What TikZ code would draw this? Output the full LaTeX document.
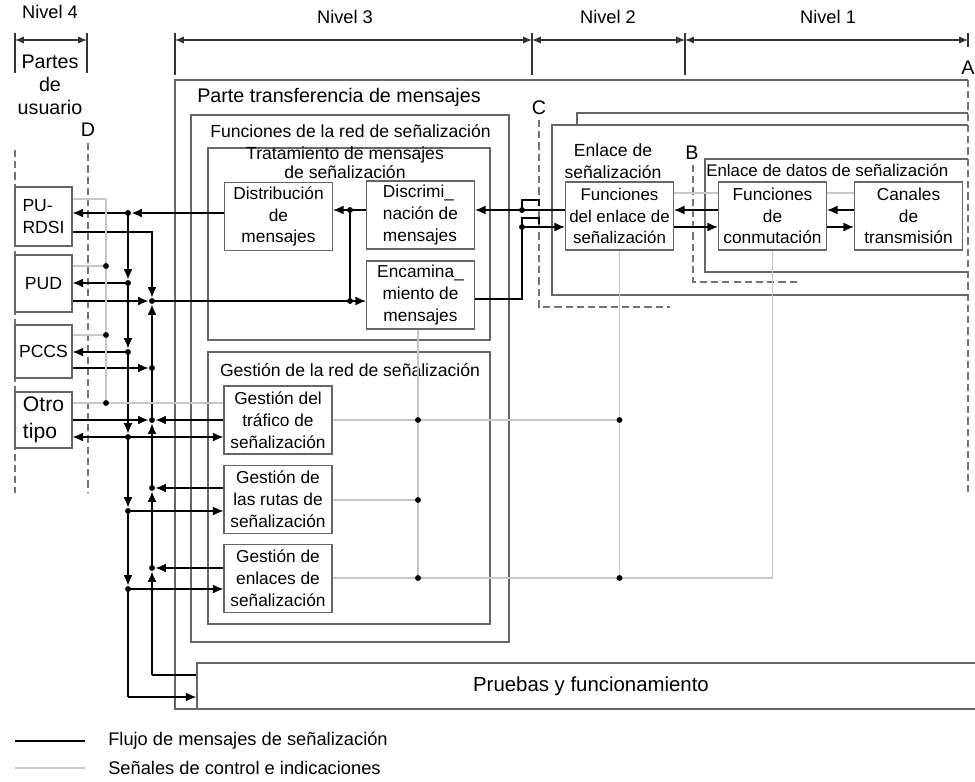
\documentclass[tikz,border=0pt]{standalone}
\usepackage{fontspec}
\setmainfont{Liberation Sans}
\usepackage{tikz}
\usetikzlibrary{arrows.meta}

\begin{document}
\begin{tikzpicture}[x=0.025cm, y=-0.025cm,
    blk/.style={draw=black!60, line width=0.9pt, fill=white, align=center, inner sep=0pt,
      minimum width=2.7cm, minimum height=1.7cm, font=\fontsize{12.3}{15.5}\selectfont},
    upart/.style={draw=black!60, line width=0.9pt, fill=white, align=left, inner sep=0pt,
      minimum width=1.425cm, font=\fontsize{12.5}{16}\selectfont},
    wall/.style={draw=black!60, line width=0.9pt},
    msg/.style={black, line width=0.8pt},
    ctl/.style={black!22, line width=0.8pt},
    flow/.style={-{Latex[length=2.6mm,width=2.2mm]}},
    flowdot/.style={-{Latex[length=2.6mm,width=2.2mm]}, shorten >=2.5pt},
    levelarrow/.style={black!80, line width=0.8pt, {Latex[length=2.2mm,width=1.8mm]}-{Latex[length=2.2mm,width=1.8mm]}},
    cutline/.style={black!55, line width=0.8pt, dash pattern=on 5pt off 3pt},
    lbl/.style={font=\fontsize{12.5}{16}\selectfont, inner sep=0pt}
  ]
    \useasboundingbox (0,0) rectangle (975,782);

    % Levels
    \node[lbl, font=\fontsize{13}{15}\selectfont] (niv4) at (50,12) {Nivel 4};
    \node[lbl, font=\fontsize{13}{15}\selectfont] (niv3) at (345,17) {Nivel 3};
    \node[lbl, font=\fontsize{13}{15}\selectfont] (niv2) at (608,17) {Nivel 2};
    \node[lbl, font=\fontsize{13}{15}\selectfont] (niv1) at (828,17) {Nivel 1};
    \draw[levelarrow] (15,40) -- (87,40);
    \draw[levelarrow] (175,40) -- (532,40);
    \draw[levelarrow] (532,40) -- (685,40);
    \draw[levelarrow] (685,40) -- (968,40);
    \draw[black!80, line width=0.8pt] (15,33) -- (15,73) (87,33) -- (87,73);
    \draw[black!80, line width=0.8pt] (175,33) -- (175,75) (532,33) -- (532,75)
      (685,33) -- (685,75) (968,33) -- (968,47);
    \node[lbl, font=\fontsize{14}{16.5}\selectfont, align=center] (partes) at (50,85) {Partes\\de\\usuario};

    % Boundary points
    \node[lbl, font=\fontsize{14}{16}\selectfont] (ptA) at (968,68) {A};
    \node[lbl, font=\fontsize{14}{16}\selectfont] (ptB) at (692,153) {B};
    \node[lbl, font=\fontsize{14}{16}\selectfont] (ptC) at (539,108) {C};
    \node[lbl, font=\fontsize{14}{16}\selectfont] (ptD) at (88,130) {D};
    \draw[cutline] (968,80) -- (968,492);
    \draw[cutline] (88,143) -- (88,493);
    \draw[cutline] (15,150) -- (15,493);
    \draw[cutline] (539,120) -- (539,307) -- (670,307);
    \draw[cutline] (693,165) -- (693,282) -- (797,282);

    % Frames
    \draw[wall] (968,80) -- (175,80) -- (175,709) -- (197,709);
    \draw[wall] (191,115) rectangle (509,642);
    \draw[wall] (208,148) rectangle (490,340);
    \draw[wall] (208,352) rectangle (490,624);
    \draw[wall] (968,125) -- (552,125) -- (552,295) -- (968,295);
    \draw[wall] (577,125) -- (577,113) -- (968,113);
    \draw[wall] (968,159) -- (705,159) -- (705,272) -- (968,272);
    \node[lbl, font=\fontsize{14}{16}\selectfont, anchor=west] (ptm) at (197,97) {Parte transferencia de mensajes};
    \node[lbl, anchor=west] (fred) at (210,131) {Funciones de la red de señalización};
    \node[lbl, align=center, font=\fontsize{12.5}{13.5}\selectfont] (trat) at (345,163) {Tratamiento de mensajes\\de señalización};
    \node[lbl] (gred) at (350,370) {Gestión de la red de señalización};
    \node[lbl, align=center] (enl) at (613,161) {Enlace de\\señalización};
    \node[lbl, anchor=west, font=\fontsize{12}{14}\selectfont] (edat) at (706,170) {Enlace de datos de señalización};

    % Nodes
    \node[upart, minimum height=1.475cm] (pu) at (43.5,216.5) {PU-\\RDSI};
    \node[upart, minimum height=1.425cm] (pud) at (43.5,283.5) {PUD};
    \node[upart, minimum height=1.325cm] (pccs) at (43.5,351.5) {PCCS};
    \node[upart, minimum height=1.4cm, font=\fontsize{15}{19}\selectfont] (otro) at (43.5,420) {Otro\\tipo};
    \node[blk] (dist) at (278.5,216.5) {Distribución\\de\\mensajes};
    \node[blk, align=left] (disc) at (420.5,215) {Discrimi\_\\nación de\\mensajes};
    \node[blk] (enc) at (420.5,295) {Encamina\_\\miento de\\mensajes};
    \node[blk] (gtraf) at (278,420) {Gestión del\\tráfico de\\señalización};
    \node[blk] (grut) at (278,499.5) {Gestión de\\las rutas de\\señalización};
    \node[blk] (genl) at (278,578.5) {Gestión de\\enlaces de\\señalización};
    \node[blk, font=\fontsize{12}{15.5}\selectfont] (fenl) at (619.5,216) {Funciones\\del enlace de\\señalización};
    \node[blk] (fconm) at (772.5,216) {Funciones\\de\\conmutación};
    \node[blk] (canal) at (908.5,216) {Canales\\de\\transmisión};
    \node[wall, fill=white, minimum width=19.7cm, minimum height=1.15cm,
      font=\fontsize{14.5}{16}\selectfont] (pruebas) at (591,686) {Pruebas y funcionamiento};

    % Junctions
    \coordinate (u1) at (128,213);
    \coordinate (u2) at (128,283);
    \coordinate (u3) at (128,352);
    \coordinate (u4) at (128,437);
    \coordinate (u5) at (128,511);
    \coordinate (u6) at (128,589);
    \coordinate (u7) at (128,697);
    \coordinate (v0) at (152,232);
    \coordinate (v1) at (152,301);
    \coordinate (v2) at (152,368);
    \coordinate (v3) at (152,420);
    \coordinate (v4) at (152,488);
    \coordinate (v5) at (152,568);
    \coordinate (v6) at (152,675);
    \coordinate (w0) at (106,199);
    \coordinate (w1) at (106,266);
    \coordinate (w2) at (106,335);
    \coordinate (w3) at (106,403);
    \coordinate (d1) at (350,210);
    \coordinate (d2) at (350,301);
    \coordinate (e1) at (522,210);
    \coordinate (e2) at (522,227);
    \coordinate (e3) at (522,299);
    \coordinate (k1) at (700,193);
    \coordinate (g1) at (418,420);
    \coordinate (g2) at (418,500);
    \coordinate (g3) at (418,578);
    \coordinate (g4) at (fenl.south |- g1);
    \coordinate (g5) at (fenl.south |- g3);
    \coordinate (g6) at (fconm.south |- g3);

    % Message flow, first bus
    \draw[msg, flowdot] (u1 -| dist.west) -- (u1);
    \draw[msg, flow] (u1) -- (u1 -| pu.east);
    \draw[msg, flowdot] (u1) -- (u2);
    \draw[msg, flowdot] (u2) -- (u3);
    \draw[msg, flowdot] (u3) -- (u4);
    \draw[msg, flowdot] (u4) -- (u5);
    \draw[msg, flowdot] (u5) -- (u6);
    \draw[msg] (u6) -- (u7);
    \draw[msg, flow] (u7) -- (u7 -| pruebas.west);
    \draw[msg, flow] (u2) -- (u2 -| pud.east);
    \draw[msg, flow] (u3) -- (u3 -| pccs.east);
    \draw[msg, flow] (u4) -- (u4 -| otro.east);
    \draw[msg, flow] (u4) -- (u4 -| gtraf.west);
    \draw[msg, flow] (u5) -- (u5 -| grut.west);
    \draw[msg, flow] (u6) -- (u6 -| genl.west);

    % Message flow, second bus
    \draw[msg, flowdot] (v0 -| pu.east) -- (v0) -- (v1);
    \draw[msg, flowdot] (v1 -| pud.east) -- (v1);
    \draw[msg, flow] (v1) -- (v1 -| enc.west);
    \draw[msg, flowdot] (v2) -- (v1);
    \draw[msg] (v3) -- (v2);
    \draw[msg, flowdot] (v4) -- (v3);
    \draw[msg, flowdot] (v5) -- (v4);
    \draw[msg, flowdot] (v6) -- (v5);
    \draw[msg] (v6 -| pruebas.west) -- (v6);
    \draw[msg, flowdot] (v2 -| pccs.east) -- (v2);
    \draw[msg, flowdot] (v3 -| otro.east) -- (v3);
    \draw[msg, flowdot] (v3 -| gtraf.west) -- (v3);
    \draw[msg, flowdot] (v4 -| grut.west) -- (v4);
    \draw[msg, flowdot] (v5 -| genl.west) -- (v5);

    % Message flow, level 3 to level 1
    \draw[msg, flow] (d1 -| disc.west) -- (d1 -| dist.east);
    \draw[msg] (d1) -- (d2);
    \draw[msg, flow] (e1 -| fenl.west) -- (e1 -| disc.east);
    \draw[msg] (e1) -- (522,200) -- (539,200) -- (539,206);
    \draw[msg, flow] (e3 -| enc.east) -- (e3) -- (e2) -- (e2 -| fenl.west);
    \draw[msg] (e2) -- (522,218) -- (539,218) -- (539,224);
    \draw[msg, flow] (e1 -| fconm.west) -- (e1 -| fenl.east);
    \draw[msg, flow] (e2 -| fenl.east) -- (e2 -| fconm.west);
    \draw[msg, flow] (e1 -| canal.west) -- (e1 -| fconm.east);
    \draw[msg, flow] (e2 -| fconm.east) -- (e2 -| canal.west);

    % Control signals
    \draw[ctl] (w0 -| pu.east) -- (w0) -- (w3);
    \draw[ctl] (w3 -| otro.east) -- (w3 -| gtraf.west);
    \draw[ctl] (w1 -| pud.east) -- (w1);
    \draw[ctl] (w2 -| pccs.east) -- (w2);
    \draw[ctl] (k1 -| fenl.east) -- (k1 -| fconm.west);
    \draw[ctl] (k1 -| fconm.east) -- (k1 -| canal.west);
    \draw[ctl] (enc.south -| g1) -- (g3);
    \draw[ctl] (g1 -| gtraf.east) -- (g4);
    \draw[ctl] (g2 -| grut.east) -- (g2);
    \draw[ctl] (g3 -| genl.east) -- (g6);
    \draw[ctl] (fenl.south) -- (g5);
    \draw[ctl] (fconm.south) -- (g6);

    % Dots
    \foreach \p in {u1,u2,u3,u4,u5,u6,v1,v2,v3,v4,v5,w1,w2,w3,d1,d2,e1,e2,g1,g2,g3,g4,g5}
      \fill (\p) circle (2.1pt);

    % Legend
    \coordinate (lg1) at (15,741);
    \coordinate (lg2) at (85,741);
    \coordinate (lg3) at (15,768);
    \coordinate (lg4) at (85,768);
    \draw[msg] (lg1) -- (lg2);
    \draw[ctl] (lg3) -- (lg4);
    \node[lbl, font=\fontsize{13}{15}\selectfont, anchor=west] (leg1) at (108,741) {Flujo de mensajes de señalización};
    \node[lbl, font=\fontsize{13}{15}\selectfont, anchor=west] (leg2) at (108,768) {Señales de control e indicaciones};
\end{tikzpicture}
\end{document}
